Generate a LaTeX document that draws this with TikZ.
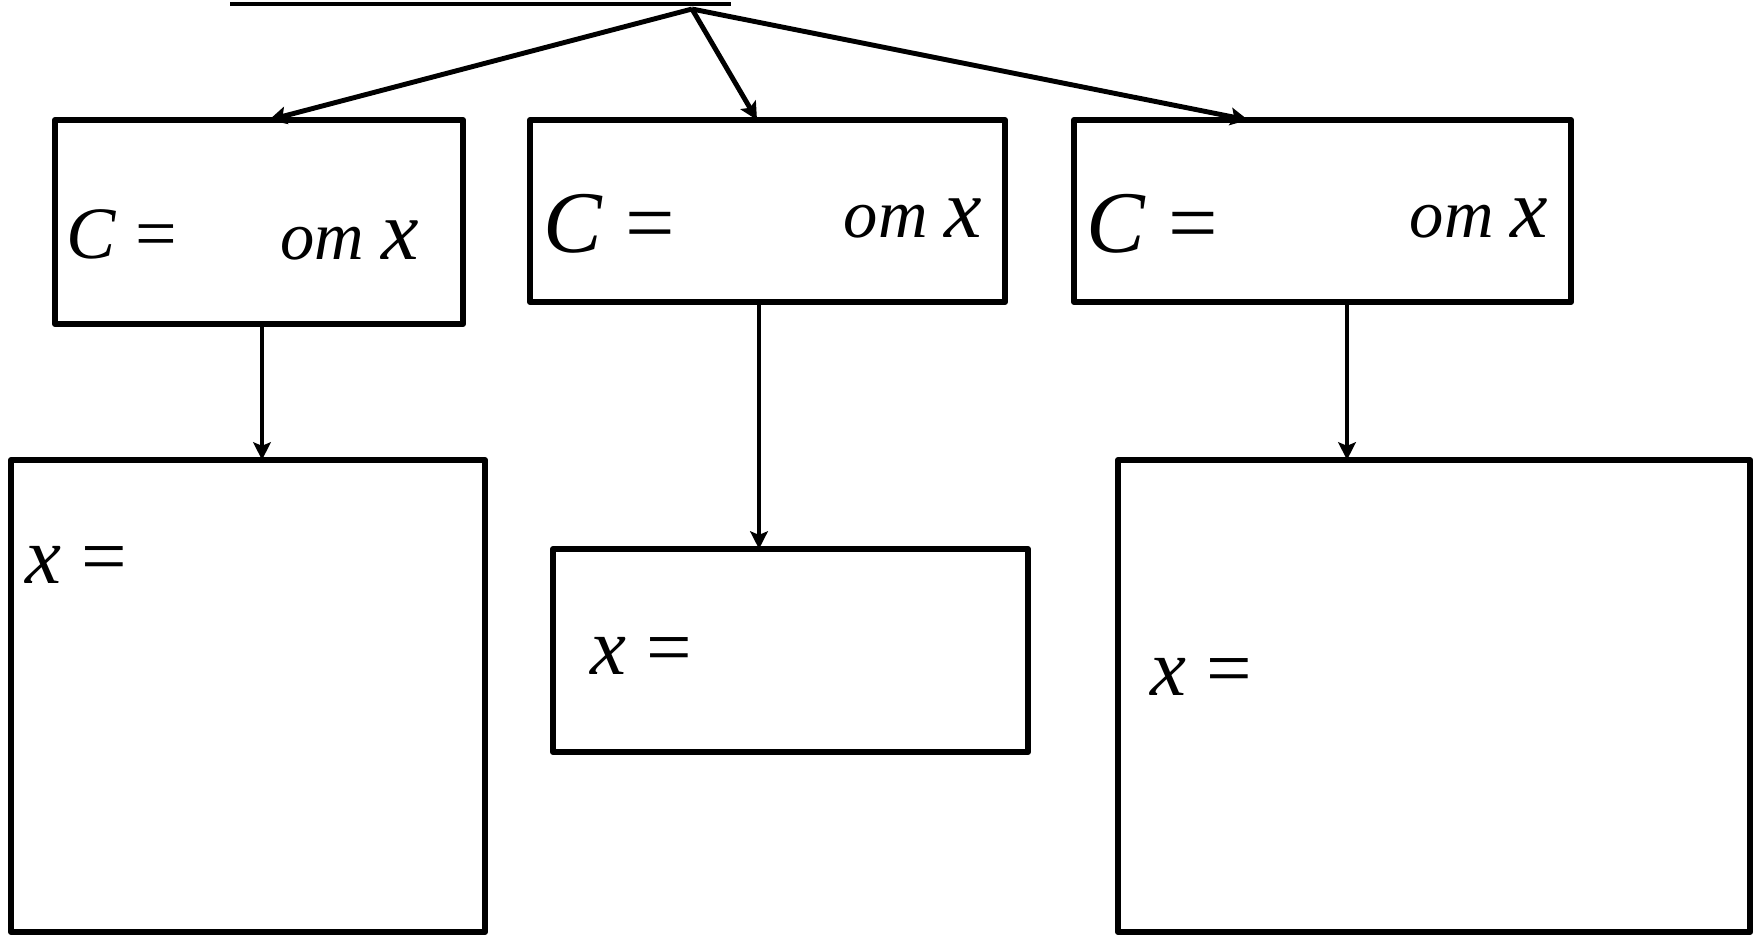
\documentclass[tikz,border=0pt]{standalone}
\usepackage{fontspec}
\setmainfont{Liberation Serif}
\usetikzlibrary{arrows.meta,calc}
\newcommand{\szA}{\fontsize{21}{24}\selectfont}
\newcommand{\szB}{\fontsize{25}{29}\selectfont}
\newcommand{\szO}{\fontsize{19.5}{23}\selectfont}
\newcommand{\szX}{\fontsize{24}{28}\selectfont}
\newcommand{\szY}{\fontsize{23}{27}\selectfont}

\begin{document}
\begin{tikzpicture}[
  x=0.01cm, y=-0.01cm,
  >={Stealth[length=5pt,width=5pt,inset=1pt]},
  line join=round,
  box/.style={draw, line width=1.6pt, inner sep=0pt, outer sep=0pt},
  link/.style={->, line width=1.4pt},
  lbl/.style={anchor=base west, inner sep=0pt}
]
  \useasboundingbox (0,0) rectangle (1758,935);

  \coordinate (barL) at (230,4);
  \coordinate (barR) at (731,4);
  \coordinate (top)  at (692,9);
  \coordinate (tA) at (269,0);
  \coordinate (tB) at (757,0);
  \coordinate (tC) at (1248,0);
  \coordinate (vA) at (262,0);
  \coordinate (vB) at (759,0);
  \coordinate (vC) at (1347,0);

  % upper boxes
  \node[box, minimum width=4.08cm, minimum height=2.04cm] (A1) at (259,222)    {};
  \node[box, minimum width=4.75cm, minimum height=1.82cm] (B1) at (767.5,211)  {};
  \node[box, minimum width=4.97cm, minimum height=1.82cm] (C1) at (1322.5,211) {};

  % lower boxes
  \node[box, minimum width=4.74cm, minimum height=4.72cm] (A2) at (248,696)    {};
  \node[box, minimum width=4.75cm, minimum height=2.03cm] (B2) at (790.5,650.5) {};
  \node[box, minimum width=6.32cm, minimum height=4.72cm] (C2) at (1434,696)   {};

  % bar and branches
  \draw[line width=1.1pt] (barL) -- (barR);
  \draw[link] (top) -- (A1.north -| tA);
  \draw[link] (top) -- (B1.north -| tB);
  \draw[link] (top) -- (C1.north -| tC);

  \draw[link] (A1.south -| vA) -- (A2.north -| vA);
  \draw[link] (B1.south -| vB) -- (B2.north -| vB);
  \draw[link] (C1.south -| vC) -- (C2.north -| vC);

  % labels
  \node[lbl, font=\szA] (cA) at (66,258)   {\textit{C} =};
  \node[lbl, font=\szB] (cB) at (543,252)  {\textit{C} =};
  \node[lbl, font=\szB] (cC) at (1086,252) {\textit{C} =};
  \node[lbl] (oA) at (280,259)  {\szO\textit{om} \szX\textit{x}};
  \node[lbl] (oB) at (843,237)  {\szO\textit{om} \szX\textit{x}};
  \node[lbl] (oC) at (1409,237) {\szO\textit{om} \szX\textit{x}};
  \node[lbl, font=\szY] (xA) at (25,583)   {\textit{x} =};
  \node[lbl, font=\szY] (xB) at (590,674)  {\textit{x} =};
  \node[lbl, font=\szY] (xC) at (1150,695) {\textit{x} =};
\end{tikzpicture}
\end{document}
